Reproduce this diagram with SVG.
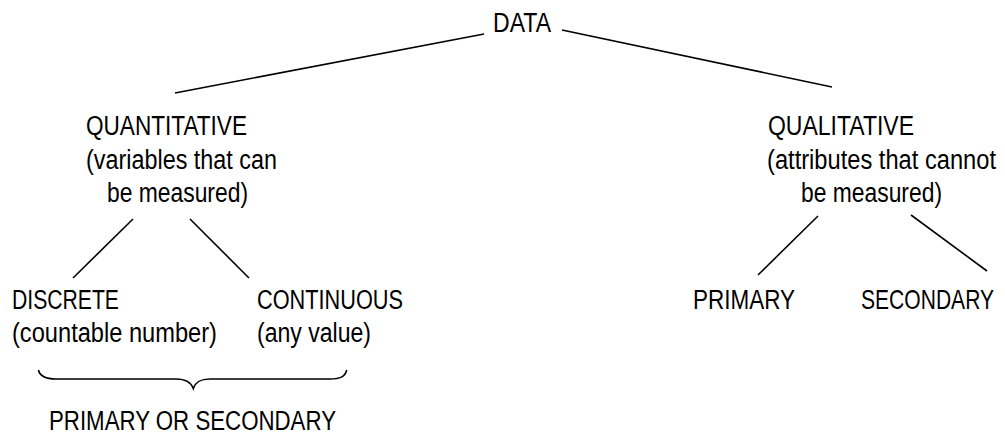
<svg xmlns="http://www.w3.org/2000/svg" width="1005" height="435" viewBox="0 0 1005 435">
  <style>
    text { font-family: "Liberation Sans Narrow", "Liberation Sans", Arial, sans-serif; font-size: 27px; fill: #000; }
    .ln { stroke: #000; stroke-width: 1.6; fill: none; stroke-linecap: butt; }
  </style>
  <rect width="1005" height="435" fill="#fff"/>
  <g id="connectors">
    <line class="ln" x1="484" y1="34" x2="175" y2="93"/>
    <line class="ln" x1="562" y1="30" x2="832" y2="87"/>
    <line class="ln" x1="133" y1="219" x2="73" y2="278"/>
    <line class="ln" x1="190" y1="219" x2="249" y2="278"/>
    <line class="ln" x1="818" y1="216" x2="758" y2="275"/>
    <line class="ln" x1="911" y1="215" x2="987" y2="271"/>
    <path class="ln" d="M38.5,370 C40,377 46,379 56,379 L176,379 C186,379 191,382 193.3,388.5 C195.5,382 200,379 210,379 L330,379 C340,379 345,377 346.7,370"/>
  </g>
  <g id="node-data">
    <text x="493" y="32" textLength="58" lengthAdjust="spacingAndGlyphs">DATA</text>
  </g>
  <g id="node-quantitative">
    <text x="86" y="135" textLength="161" lengthAdjust="spacingAndGlyphs">QUANTITATIVE</text>
    <text x="86" y="168.5" textLength="191" lengthAdjust="spacingAndGlyphs">(variables that can</text>
    <text x="107" y="202" textLength="141" lengthAdjust="spacingAndGlyphs">be measured)</text>
  </g>
  <g id="node-qualitative">
    <text x="768" y="135" textLength="146" lengthAdjust="spacingAndGlyphs">QUALITATIVE</text>
    <text transform="translate(767,168.5) scale(0.85,1)" x="0" y="0" textLength="269.4" lengthAdjust="spacingAndGlyphs">(attributes that cannot</text>
    <text x="801" y="202" textLength="141" lengthAdjust="spacingAndGlyphs">be measured)</text>
  </g>
  <g id="node-discrete">
    <text x="12" y="309" textLength="107" lengthAdjust="spacingAndGlyphs">DISCRETE</text>
    <text x="12" y="342" textLength="205" lengthAdjust="spacingAndGlyphs">(countable number)</text>
  </g>
  <g id="node-continuous">
    <text x="257" y="309" textLength="146" lengthAdjust="spacingAndGlyphs">CONTINUOUS</text>
    <text x="257" y="342" textLength="114" lengthAdjust="spacingAndGlyphs">(any value)</text>
  </g>
  <g id="node-primary">
    <text x="693" y="309" textLength="102" lengthAdjust="spacingAndGlyphs">PRIMARY</text>
  </g>
  <g id="node-secondary">
    <text transform="translate(861,309) scale(0.8,1)" x="0" y="0" textLength="166.25" lengthAdjust="spacingAndGlyphs">SECONDARY</text>
  </g>
  <g id="node-primary-or-secondary">
    <text x="49" y="430" textLength="287" lengthAdjust="spacingAndGlyphs">PRIMARY OR SECONDARY</text>
  </g>
</svg>
